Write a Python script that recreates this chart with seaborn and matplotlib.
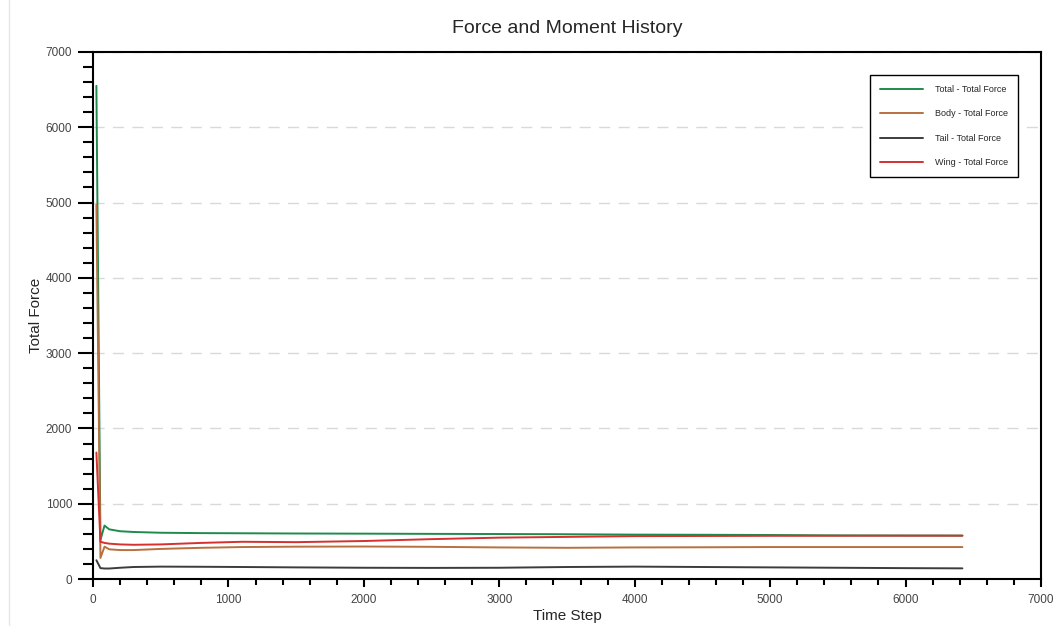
import matplotlib
matplotlib.use("Agg")
import matplotlib.pyplot as plt
import seaborn as sns
import pandas as pd
from matplotlib.ticker import MultipleLocator
from matplotlib.lines import Line2D

# Data
steps = [25, 55, 85, 120, 200, 300, 500, 800, 1100, 1500, 2000, 2500,
         3000, 3500, 4000, 4500, 5000, 5500, 6000, 6420]
total_force = [6550, 520, 710, 660, 635, 625, 615, 610, 608, 605, 603, 600,
               598, 595, 590, 588, 585, 580, 578, 577]
body_force = [4970, 280, 430, 395, 385, 385, 400, 415, 425, 430, 432, 428,
              420, 415, 420, 422, 425, 425, 425, 425]
tail_force = [250, 145, 140, 140, 150, 160, 165, 163, 160, 155, 150, 148,
              150, 160, 165, 160, 155, 150, 145, 142]
wing_force = [1680, 495, 480, 470, 460, 455, 460, 480, 495, 490, 505, 530,
              550, 560, 570, 572, 574, 575, 576, 576]

series_names = ["Total - Total Force", "Body - Total Force",
                "Tail - Total Force", "Wing - Total Force"]
series_values = [total_force, body_force, tail_force, wing_force]
colors = ["#1f8a4c", "#b8703f", "#3c3c3c", "#d63030"]

sns.set_style("ticks")
plt.rcParams["font.family"] = ["Liberation Sans", "DejaVu Sans"]

fig = plt.figure(figsize=(10.58, 6.26), dpi=100)
ax = fig.add_axes([0.0879, 0.075, 0.896, 0.842])

for name, vals, col in zip(series_names, series_values, colors):
    df = pd.DataFrame({"step": steps, "force": vals})
    sns.lineplot(data=df, x="step", y="force", ax=ax, color=col,
                 linewidth=1.4, label=name, sort=False)

ax.set_xlim(0, 7000)
ax.set_ylim(0, 7000)
ax.xaxis.set_major_locator(MultipleLocator(1000))
ax.xaxis.set_minor_locator(MultipleLocator(200))
ax.yaxis.set_major_locator(MultipleLocator(1000))
ax.yaxis.set_minor_locator(MultipleLocator(200))
ax.tick_params(axis="y", which="major", length=11, width=1.5, color="black",
               labelsize=8.5, labelcolor="#444444", pad=4)
ax.tick_params(axis="y", which="minor", length=7, width=1.5, color="black")
ax.tick_params(axis="x", which="major", length=6, width=1.5, color="black",
               labelsize=8.5, labelcolor="#444444", pad=5)
ax.tick_params(axis="x", which="minor", length=4, width=1.5, color="black")
ax.yaxis.grid(True, which="major", linestyle=(0, (8, 6)), color="#d9d9d9",
              linewidth=1)
ax.set_axisbelow(True)
for s in ax.spines.values():
    s.set_color("black")
    s.set_linewidth(1.5)

ax.set_title("Force and Moment History", fontsize=14, pad=14)
ax.set_xlabel("Time Step", fontsize=11, labelpad=2)
ax.set_ylabel("Total Force", fontsize=11, labelpad=2)

leg = ax.legend(loc="upper right", bbox_to_anchor=(0.976, 0.956),
                borderaxespad=0, fontsize=6.5, handlelength=4.8,
                labelspacing=1.7, borderpad=1.1, handletextpad=1.3,
                fancybox=False, framealpha=1)
leg.get_frame().set_edgecolor("black")
leg.get_frame().set_linewidth(1.0)
for line in leg.get_lines():
    line.set_linewidth(1.4)

# faint border line on the left edge of the image
fig.add_artist(Line2D([0.0085, 0.0085], [0.0, 1.0], color="#e6e6e6",
                      linewidth=1, transform=fig.transFigure))

fig.savefig("out.png", dpi=100)
